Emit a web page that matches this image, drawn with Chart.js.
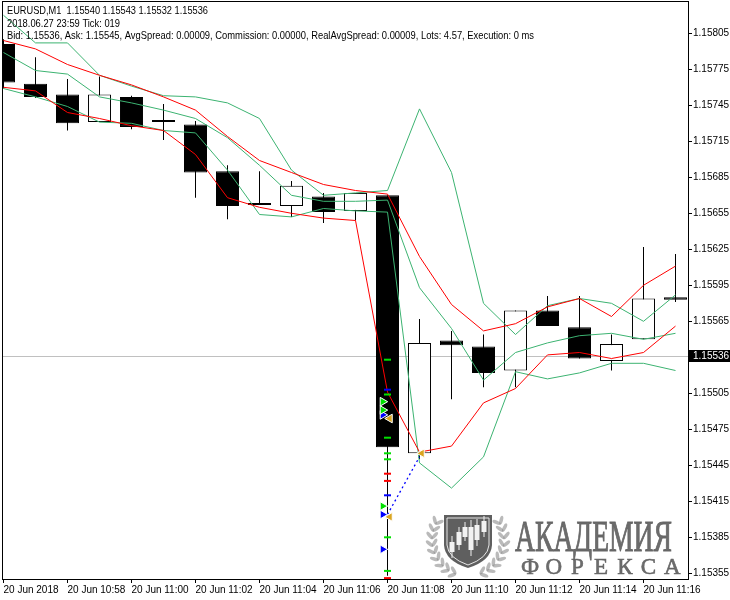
<!DOCTYPE html>
<html>
<head>
<meta charset="utf-8">
<script src="https://cdn.jsdelivr.net/npm/chart.js@4.4.1/dist/chart.umd.min.js"></script>
<style>
  html, body { margin: 0; padding: 0; background: #fff; }
  #wrap { width: 730px; height: 600px; }
</style>
</head>
<body>
<div id="wrap"><canvas id="eurusdChart" width="730" height="600"></canvas></div>
<script>
// M1 bars, 20 Jun 2018
const barTimes = ['10:56', '10:57', '10:58', '10:59', '11:00', '11:01', '11:02', '11:03', '11:04', '11:05', '11:06',
                  '11:07', '11:08', '11:09', '11:10', '11:11', '11:12', '11:13', '11:14', '11:15', '11:16', '11:17'];
const opens  = [1.15796, 1.15763, 1.15754, 1.15731, 1.15752, 1.15731, 1.15729, 1.15690, 1.15662, 1.15661, 1.15669,
                1.15657, 1.15670, 1.15455, 1.15549, 1.15544, 1.15524, 1.15574, 1.15560, 1.15532, 1.15550, 1.15585];
const highs  = [1.15800, 1.15785, 1.15767, 1.15769, 1.15753, 1.15746, 1.15732, 1.15695, 1.15690, 1.15682, 1.15672,
                1.15672, 1.15670, 1.15567, 1.15557, 1.15554, 1.15574, 1.15586, 1.15586, 1.15554, 1.15627, 1.15621];
const lows   = [1.15759, 1.15751, 1.15724, 1.15731, 1.15725, 1.15716, 1.15668, 1.15650, 1.15662, 1.15652, 1.15647,
                1.15649, 1.15353, 1.15450, 1.15500, 1.15510, 1.15510, 1.15561, 1.15534, 1.15524, 1.15550, 1.15581];
const closes = [1.15764, 1.15752, 1.15730, 1.15754, 1.15727, 1.15731, 1.15689, 1.15661, 1.15662, 1.15678, 1.15656,
                1.15672, 1.15460, 1.15547, 1.15545, 1.15522, 1.15574, 1.15561, 1.15534, 1.15546, 1.15584, 1.15583];

// bollinger bands (green)
const bandUpper = [1.15820, 1.15797, 1.15797, 1.15770, 1.15761, 1.15753, 1.15752, 1.15747, 1.15734, 1.15691, 1.15670,
                   1.15672, 1.15674, 1.15742, 1.15689, 1.15580, 1.15554, 1.15578, 1.15584, 1.15580, 1.15565, 1.15587];
const bandMid   = [1.15789, 1.15774, 1.15771, 1.15752, 1.15747, 1.15741, 1.15734, 1.15718, 1.15695, 1.15670, 1.15665,
                   1.15665, 1.15666, 1.15593, 1.15559, 1.15516, 1.15539, 1.15547, 1.15553, 1.15555, 1.15550, 1.15555];
const bandLower = [1.15759, 1.15752, 1.15744, 1.15731, 1.15730, 1.15724, 1.15722, 1.15691, 1.15654, 1.15652, 1.15659,
                   1.15657, 1.15656, 1.15447, 1.15426, 1.15452, 1.15523, 1.15517, 1.15522, 1.15530, 1.15530, 1.15524];
// red moving averages
const maUpper = [1.15799, 1.15792, 1.15779, 1.15770, 1.15762, 1.15752, 1.15741, 1.15719, 1.15699, 1.15689, 1.15679,
                 1.15674, 1.15671, 1.15619, 1.15579, 1.15557, 1.15563, 1.15577, 1.15584, 1.15569, 1.15595, 1.15611];
const maLower = [1.15760, 1.15757, 1.15739, 1.15734, 1.15728, 1.15724, 1.15704, 1.15668, 1.15660, 1.15655, 1.15651,
                 1.15649, 1.15506, 1.15456, 1.15461, 1.15497, 1.15509, 1.15537, 1.15539, 1.15534, 1.15539, 1.15561];

// trade marks on the 11:08 bar
const greenDashes = [1.15533, 1.15504, 1.15468, 1.15455, 1.15450, 1.15385, 1.15357];
const redDashes   = [1.15438, 1.15432, 1.15351];
const blueDashes  = [1.15508, 1.15420];
const greenArrows = [1.15498, 1.15491, 1.15411];
const blueArrows  = [1.15487, 1.15404, 1.15375];
const orangeBars   = [12, 12, 13];
const orangePrices = [1.15484, 1.15402, 1.15455];
const linkBars   = [12, 13];
const linkPrices = [1.15404, 1.15452];

const xTickBars   = [0, 2, 4, 6, 8, 10, 12, 14, 16, 18, 20];
const xTickLabels = ['20 Jun 2018', '20 Jun 10:58', '20 Jun 11:00', '20 Jun 11:02', '20 Jun 11:04', '20 Jun 11:06',
                     '20 Jun 11:08', '20 Jun 11:10', '20 Jun 11:12', '20 Jun 11:14', '20 Jun 11:16'];
const yTicks = [1.15805, 1.15775, 1.15745, 1.15715, 1.15685, 1.15655, 1.15625, 1.15595, 1.15565,
                1.15505, 1.15475, 1.15445, 1.15415, 1.15385, 1.15355];
const bidPrice = 1.15536;
const headerLines = [
  'EURUSD,M1  1.15540 1.15543 1.15532 1.15536',
  '2018.06.27 23:59 Tick: 019',
  'Bid: 1.15536, Ask: 1.15545, AvgSpread: 0.00009, Commission: 0.00000, RealAvgSpread: 0.00009, Lots: 4.57, Execution: 0 ms'
];

const FONT = '"Liberation Sans", Arial, sans-serif';
const GREEN = '#3cb371';

const idx = barTimes.map((t, i) => i);
const pts = arr => arr.map((v, i) => ({x: i, y: v}));
const at = (bar, arr) => arr.map(v => ({x: bar, y: v}));

function fitText(ctx, text, x, y, width, stroke) {
  const w = ctx.measureText(text).width;
  ctx.save();
  ctx.translate(x, y);
  ctx.scale(width / w, 1);
  ctx.fillText(text, 0, 0);
  if (stroke) ctx.strokeText(text, 0, 0);
  ctx.restore();
}

function drawLogo(ctx) {
  ctx.save();
  // laurel wreath
  const cx = 468, cy = 540, r = 36;
  ctx.fillStyle = 'rgba(140,140,140,0.6)';
  [1, -1].forEach(side => {
    for (let k = 0; k < 9; k++) {
      const a = Math.PI / 2 + side * (0.35 + k * 0.21);
      const px = cx + Math.cos(a) * r, py = cy + Math.sin(a) * r;
      [-0.7, 0.7].forEach(off => {
        ctx.save();
        ctx.translate(px, py);
        ctx.rotate(a + (side > 0 ? Math.PI : 0) + off);
        ctx.beginPath();
        ctx.ellipse(0, -4, 1.8, 4.5, 0, 0, Math.PI * 2);
        ctx.fill();
        ctx.restore();
      });
    }
  });
  // shield
  ctx.beginPath();
  ctx.moveTo(444, 515); ctx.lineTo(492, 515); ctx.lineTo(492, 545);
  ctx.quadraticCurveTo(491, 561, 468, 568);
  ctx.quadraticCurveTo(445, 561, 444, 545);
  ctx.closePath();
  ctx.fillStyle = '#5f5f5f'; ctx.fill();
  ctx.beginPath();
  ctx.moveTo(447, 518); ctx.lineTo(489, 518); ctx.lineTo(489, 545);
  ctx.quadraticCurveTo(488, 558, 468, 565);
  ctx.quadraticCurveTo(448, 558, 447, 545);
  ctx.closePath();
  ctx.strokeStyle = '#e6e6e6'; ctx.lineWidth = 1; ctx.stroke();
  // little candles in the shield
  const logoCandles = [[452, 542, 552, 536, 558], [459, 532, 545, 527, 550], [465, 527, 537, 522, 541],
                       [471, 527, 550, 520, 556], [477, 525, 540, 519, 546], [484, 521, 532, 516, 537]];
  logoCandles.forEach(([x, bt, bb, wt, wb]) => {
    ctx.fillStyle = '#f2f2f2';
    ctx.fillRect(x - 0.5, wt, 1, wb - wt);
    ctx.fillRect(x - 2.5, bt, 5, bb - bt);
  });
  // text
  ctx.fillStyle = 'rgba(95,95,95,0.92)';
  ctx.strokeStyle = 'rgba(95,95,95,0.92)';
  ctx.lineWidth = 1;
  ctx.textBaseline = 'alphabetic';
  ctx.textAlign = 'left';
  ctx.font = '45px "Liberation Serif", "DejaVu Serif", serif';
  fitText(ctx, 'АКАДЕМИЯ', 515, 551, 157, true);
  ctx.font = '23px "Liberation Serif", "DejaVu Serif", serif';
  ctx.textAlign = 'center';
  ctx.lineWidth = 0.6;
  'ФОРЕКСА'.split('').forEach((ch, k) => {
    ctx.fillText(ch, 530 + k * 23.7, 574);
    ctx.strokeText(ch, 530 + k * 23.7, 574);
  });
  ctx.restore();
}

const mt4Decor = {
  id: 'mt4Decor',
  beforeDatasetsDraw(chart) {
    const {ctx, chartArea: a, scales: {y}} = chart;
    drawLogo(ctx);
    const py = Math.round(y.getPixelForValue(bidPrice)) + 0.5;
    ctx.save();
    ctx.strokeStyle = '#c0c0c0';
    ctx.lineWidth = 1;
    ctx.beginPath(); ctx.moveTo(a.left, py); ctx.lineTo(a.right, py); ctx.stroke();
    ctx.restore();
  },
  afterDraw(chart) {
    const {ctx, chartArea: a, scales: {y}} = chart;
    ctx.save();
    // frame
    ctx.strokeStyle = '#000';
    ctx.lineWidth = 1;
    ctx.strokeRect(a.left + 0.5, a.top + 0.5, a.right - a.left, a.bottom - a.top);
    // bid label
    const py = Math.round(y.getPixelForValue(bidPrice)) + 0.5;
    ctx.fillStyle = '#000';
    ctx.fillRect(a.right + 1, py - 6.5, 730 - a.right - 1, 12);
    ctx.fillStyle = '#fff';
    ctx.font = '10px ' + FONT;
    ctx.textBaseline = 'middle';
    ctx.fillText(bidPrice.toFixed(5), a.right + 5, py);
    // header
    ctx.fillStyle = '#000';
    ctx.font = '10.5px ' + FONT;
    const widths = [201, 113, 527];
    headerLines.forEach((t, k) => fitText(ctx, t, 7, 11.5 + k * 12.5, widths[k]));
    ctx.restore();
  }
};

const markStyle = {type: 'line', showLine: false, clip: 0, order: 0};

new Chart(document.getElementById('eurusdChart'), {
  type: 'bar',
  data: {
    datasets: [
      {...markStyle, data: at(12, greenDashes), pointStyle: 'line', pointRadius: 3.5, pointBorderWidth: 2, pointBorderColor: '#00e000'},
      {...markStyle, data: at(12, redDashes), pointStyle: 'line', pointRadius: 3.5, pointBorderWidth: 2, pointBorderColor: '#ff0000'},
      {...markStyle, data: at(12, blueDashes), pointStyle: 'line', pointRadius: 3.5, pointBorderWidth: 2, pointBorderColor: '#0000ff'},
      {...markStyle, data: at(11.85, greenArrows), pointStyle: 'triangle', rotation: 90, pointRadius: 5,
       pointBackgroundColor: '#00e000', pointBorderColor: '#ffffff', pointBorderWidth: 1},
      {...markStyle, data: at(11.85, blueArrows), pointStyle: 'triangle', rotation: 90, pointRadius: 5,
       pointBackgroundColor: '#0000ff', pointBorderColor: '#ffffff', pointBorderWidth: 1},
      {...markStyle, data: orangeBars.map((b, i) => ({x: b + 0.07, y: orangePrices[i]})), pointStyle: 'triangle', rotation: -90,
       pointRadius: 5, pointBackgroundColor: '#daa520', pointBorderColor: '#ffffff', pointBorderWidth: 1},
      {type: 'line', data: linkBars.map((b, i) => ({x: b, y: linkPrices[i]})), borderColor: '#0000ff', borderWidth: 1.3,
       borderDash: [2, 3], pointRadius: 0, clip: 0, order: 0},

      {type: 'line', data: pts(maUpper), borderColor: '#ff0000', borderWidth: 1, pointRadius: 0, tension: 0, clip: 0, order: 1},
      {type: 'line', data: pts(maLower), borderColor: '#ff0000', borderWidth: 1, pointRadius: 0, tension: 0, clip: 0, order: 1},
      {type: 'line', data: pts(bandUpper), borderColor: GREEN, borderWidth: 1, pointRadius: 0, tension: 0, clip: 0, order: 1},
      {type: 'line', data: pts(bandMid), borderColor: GREEN, borderWidth: 1, pointRadius: 0, tension: 0, clip: 0, order: 1},
      {type: 'line', data: pts(bandLower), borderColor: GREEN, borderWidth: 1, pointRadius: 0, tension: 0, clip: 0, order: 1},

      // candle bodies
      {type: 'bar', data: idx.map(i => ({x: i, y: [opens[i], closes[i]]})),
       backgroundColor: idx.map(i => closes[i] > opens[i] ? '#ffffff' : '#000000'),
       borderColor: '#000', borderWidth: 1, borderSkipped: false, inflateAmount: 0,
       grouped: false, maxBarThickness: 25, minBarLength: 2, clip: 0, order: 2},
      // wicks
      {type: 'bar', data: idx.map(i => ({x: i, y: [lows[i], highs[i]]})),
       backgroundColor: '#000', borderWidth: 0, inflateAmount: 0,
       grouped: false, maxBarThickness: 1, clip: 0, order: 3}
    ]
  },
  options: {
    responsive: false,
    animation: false,
    devicePixelRatio: 1,
    layout: {autoPadding: false, padding: {left: 2, top: 1, right: 0, bottom: 0}},
    plugins: {legend: {display: false}, tooltip: {enabled: false}},
    scales: {
      x: {
        type: 'linear', offset: false,
        min: -1.5 / 32, max: -1.5 / 32 + 686 / 32,
        border: {display: false},
        grid: {drawOnChartArea: false, offset: false, tickLength: 4, color: '#000'},
        ticks: {autoSkip: false, maxRotation: 0, align: 'start', padding: 1, color: '#000',
                font: {family: FONT, size: 10},
                callback: (v, i) => xTickLabels[i]},
        afterBuildTicks: s => { s.ticks = xTickBars.map(v => ({value: v})); },
        afterFit: s => { s.height = 21; s.paddingLeft = 0; s.paddingRight = 0; }
      },
      y: {
        type: 'linear', position: 'right', beginAtZero: false,
        min: 1.1535025, max: 1.1583192,
        border: {display: false},
        grid: {drawOnChartArea: false, tickLength: 4, color: '#000'},
        ticks: {padding: 1, color: '#000', font: {family: FONT, size: 10},
                callback: v => v.toFixed(5)},
        afterBuildTicks: s => { s.ticks = yTicks.map(v => ({value: v})); },
        afterFit: s => { s.width = 42; s.paddingTop = 0; s.paddingBottom = 0; }
      }
    }
  },
  plugins: [mt4Decor]
});
</script>
</body>
</html>
